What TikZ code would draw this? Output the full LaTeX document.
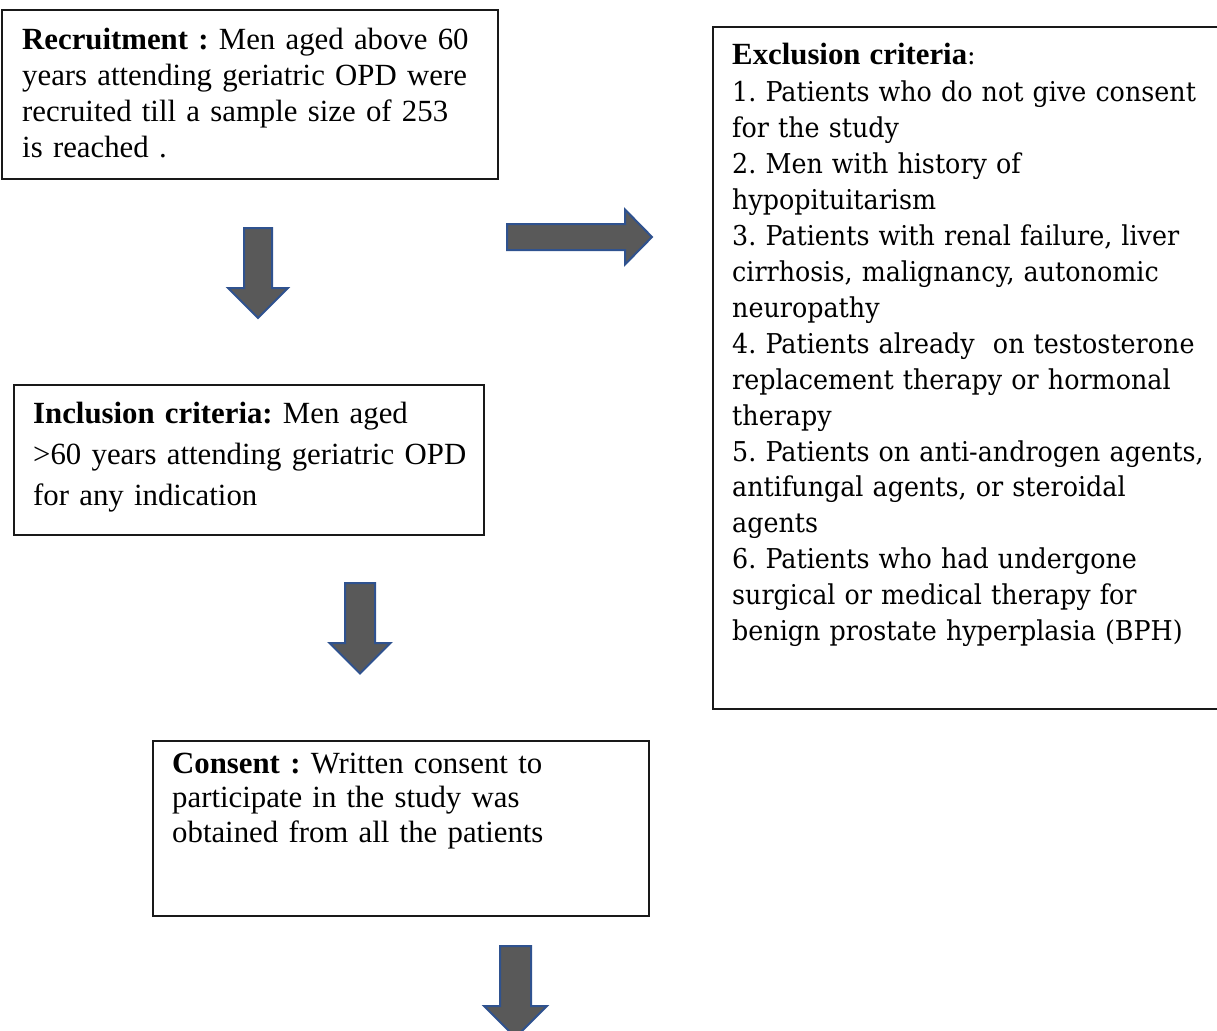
\documentclass[tikz,border=0pt]{standalone}
\usepackage{fontspec}
\setmainfont{Liberation Serif}
\newfontfamily\listfont[FakeStretch=0.93]{DejaVu Serif}
\definecolor{arrowgray}{RGB}{89,89,89}
\definecolor{arrowblue}{RGB}{47,82,143}
\tikzset{
  box/.style={draw=black!90, line width=1.8pt, inner sep=0pt, anchor=north west},
  txt/.style={anchor=base west, inner sep=0pt, align=left, text width=#1},
  blockarrow/.style={fill=arrowgray, draw=arrowblue, line width=2pt, line join=miter},
  % downward block arrow: shaft half-width / head half-width / shaft length
  pics/downblock/.style args={#1/#2/#3}{code={
    \draw[blockarrow] (-#1,0) -- (#1,0) -- (#1,#3) -- (#2,#3) -- (0,#3+#2)
      -- (-#2,#3) -- (-#1,#3) -- cycle;}},
  % rightward block arrow: shaft half-width / head half-width / shaft length / head length
  pics/rightblock/.style args={#1/#2/#3/#4}{code={
    \draw[blockarrow] (0,-#1) -- (#3,-#1) -- (#3,-#2) -- (#3+#4,0) -- (#3,#2)
      -- (#3,#1) -- (0,#1) -- cycle;}}
}
\begin{document}
\frenchspacing
\begin{tikzpicture}[x=1pt,y=-1pt]
\useasboundingbox (0,0) rectangle (1217,1030);
\clip (0,0) rectangle (1217,1030);

% frames
\node[box, minimum width=496pt, minimum height=169pt] (rec) at (1,9) {};
\node[box, minimum width=470pt, minimum height=150pt] (inc) at (13,384) {};
\node[box, minimum width=496pt, minimum height=175pt] (con) at (152,740) {};
\node[box, minimum width=560pt, minimum height=682pt] (exc) at (712,26) {};

% texts
\node[txt=520pt, font=\fontsize{30.8}{35.7}\selectfont] (rectext) at (22,50)
  {\textbf{Recruitment :} Men aged above 60\\
   years attending geriatric OPD were\\
   recruited till a sample size of 253\\
   is reached .};

\node[txt=500pt, font=\fontsize{30.8}{41}\selectfont] (inctext) at (33,423)
  {\textbf{Inclusion criteria:} Men aged\\
   >60 years attending geriatric OPD\\
   for any indication};

\node[txt=520pt, font=\fontsize{30.8}{34.6}\selectfont] (context) at (172,773)
  {\textbf{Consent :} Written consent to\\
   participate in the study was\\
   obtained from all the patients};

\node[txt=560pt, font=\listfont\fontsize{27.3}{35.9}\selectfont] (exctext) at (732,65)
  {{\rmfamily\bfseries\fontsize{30.8}{35.9}\selectfont Exclusion criteria}:\\[1.1pt]
   1. Patients who do not give consent\\
   for the study\\
   2. Men with history of\\
   hypopituitarism\\
   3. Patients with renal failure, liver\\
   cirrhosis, malignancy, autonomic\\
   neuropathy\\
   4. Patients already\ \ on testosterone\\
   replacement therapy or hormonal\\
   therapy\\
   5. Patients on anti-androgen agents,\\
   antifungal agents, or steroidal\\
   agents\\
   6. Patients who had undergone\\
   surgical or medical therapy for\\
   benign prostate hyperplasia (BPH)};

% block arrows
\coordinate (a1) at (258,228);
\coordinate (a2) at (360,583);
\coordinate (a3) at (515.5,946);
\coordinate (ar) at (507,237);
\pic at (a1) {downblock=14/30/60};
\pic at (a2) {downblock=15/30.5/60};
\pic at (a3) {downblock=15.5/31.5/60};
\pic at (ar) {rightblock=13/27.5/118/27};
\end{tikzpicture}
\end{document}
